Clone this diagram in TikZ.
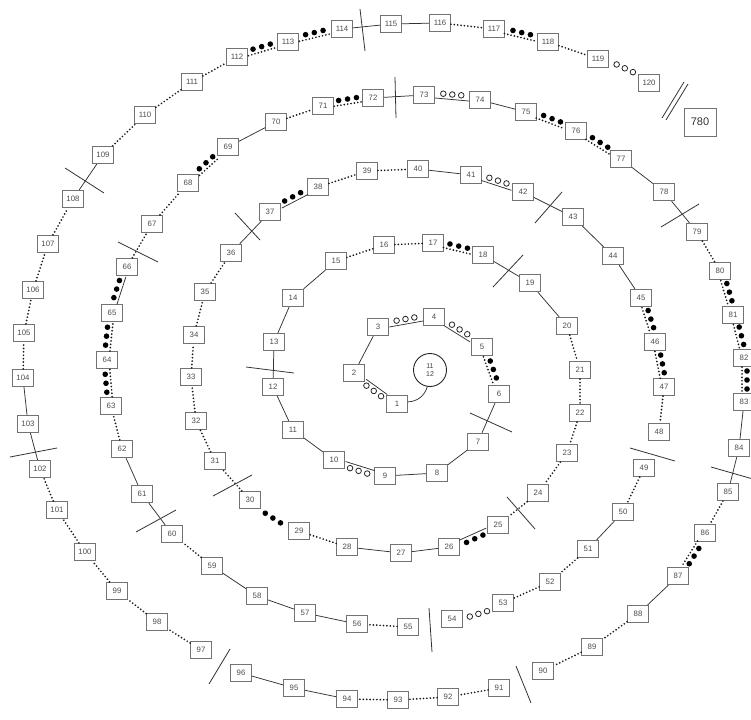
\documentclass[tikz,border=0pt]{standalone}
\usepackage{fontspec}
\setmainfont{Liberation Sans}
\usetikzlibrary{calc}
\tikzset{
  box/.style={draw=black!55, line width=0.8pt, minimum width=21pt, minimum height=17.5pt,
    inner sep=0pt, font=\fontsize{7.8}{8}\selectfont, text=black!70, fill=white},
  bigbox/.style={box, minimum width=32pt, minimum height=28pt, font=\fontsize{11}{12}\selectfont, text=black!80},
  solidc/.style={draw=black!80, line width=0.75pt},
  dotc/.style={draw=black!90, line width=1.9pt, dash pattern=on 0pt off 3.4pt, line cap=round},
  cutline/.style={draw=black!80, line width=0.8pt},
  dotmark/.style={fill=black},
  ringmark/.style={draw=black!85, line width=0.8pt, fill=white}
}
\newcommand\linkends[2]{\path (b#1) -- (b#2) coordinate[pos=0] (pa) coordinate[pos=.5] (mm) coordinate[pos=1] (pb);}
\newcommand\threemarks[1]{%
  \foreach \t in {pa,pb}{%
    \coordinate (qq) at ($(mm)!9pt!(\t)$);
    \path[#1] ($(qq)!3pt!-90:(pa)$) circle (2.8pt);
  }%
  \path[#1] ($(mm)!3pt!-90:(pa)$) circle (2.8pt);
}
\newcommand\innerline[1]{\draw[#1] ($(pa)!2pt!-90:(pb)$) -- ($(pb)!2pt!90:(pa)$);}
\newcommand\lkF[3]{\linkends{#1}{#2}\innerline{#3}\threemarks{dotmark}}
\newcommand\lkO[3]{\linkends{#1}{#2}\innerline{#3}\threemarks{ringmark}}
\newcommand\lkFo[2]{\linkends{#1}{#2}\threemarks{dotmark}}
\newcommand\lkOo[2]{\linkends{#1}{#2}\threemarks{ringmark}}
\begin{document}
\begin{tikzpicture}[x=1pt,y=-1pt]
\useasboundingbox (0,0) rectangle (751,719);
\fill[white] (0,0) rectangle (751,719);
% boxes
\foreach \n/\x/\y in {1/397/404, 2/354/373, 3/378/327, 4/434/317, 5/482/347, 6/499/394, 7/478/442, 8/437/473, 9/385/476, 10/334/460,
  11/293/430, 12/273/387, 13/274/342, 14/293/298, 15/336/261, 16/384/245, 17/433/243, 18/483/255, 19/530/283, 20/567/326,
  21/580/370, 22/580/413, 23/567/453, 24/538/493, 25/498/525, 26/449/547, 27/401/553, 28/347/547, 29/299/531, 30/250/500,
  31/215/461, 32/196/421, 33/191/377, 34/194/335, 35/205/292, 36/231/253, 37/270/212, 38/318/187, 39/367/171, 40/418/169,
  41/471/175, 42/523/192, 43/573/217, 44/613/256, 45/641/298, 46/655/342, 47/664/387, 48/659/432, 49/644/468, 50/623/512,
  51/588/549, 52/550/582, 53/503/603, 54/452/619, 55/408/627, 56/357/624, 57/305/613, 58/257/596, 59/212/566, 60/172/534,
  61/142/494, 62/122/449, 63/111/406, 64/107/360, 65/112/313, 66/127/267, 67/152/224, 68/188/183, 69/228/147, 70/276/122,
  71/323/106, 72/373/98, 73/424/95, 74/480/100, 75/526/112, 76/576/131, 77/621/159, 78/664/192, 79/697/232, 80/720/271,
  81/733/315, 82/744/358, 83/744/402, 84/739/448, 85/728/492, 86/705/533, 87/678/576, 88/638/614, 89/592/647, 90/543/671,
  91/499/688, 92/448/697, 93/398/700, 94/347/699, 95/294/688, 96/241/673, 97/201/650, 98/157/622, 99/117/591, 100/85/552,
  101/57/510, 102/40/469, 103/28/424, 104/23/378, 105/24/333, 106/33/290, 107/48/244, 108/73/199, 109/103/155, 110/145/115,
  111/192/82, 112/237/57, 113/288/42, 114/342/29, 115/391/24, 116/440/23, 117/494/29, 118/548/42, 119/598/59, 120/649/83}
  \node[box] (b\n) at (\x,\y) {\n};
\node[bigbox] (b780) at (700,122) {780};
\node[circle, draw=black!85, line width=0.9pt, minimum size=33pt, inner sep=0pt, align=center,
  font=\fontsize{7}{7.5}\selectfont, text=black!75] (ell) at (430,370) {11\\12};
% solid connectors
\foreach \a/\b in {2/3, 6/7, 7/8, 8/9, 10/11, 11/12, 12/13, 13/14, 14/15, 18/19, 19/20, 26/27, 27/28, 36/37,
  40/41, 42/43, 43/44, 44/45, 50/51, 56/57, 57/58, 58/59, 60/61, 61/62, 69/70, 72/73, 74/75, 77/78, 78/79,
  83/84, 84/85, 87/88, 94/95, 95/96, 102/103, 103/104, 108/109, 114/115, 115/116}
  \draw[solidc] (b\a) -- (b\b);
% dotted connectors
\foreach \a/\b in {15/16, 16/17, 20/21, 21/22, 22/23, 23/24, 24/25, 28/29, 30/31, 31/32, 32/33, 33/34, 34/35,
  35/36, 38/39, 39/40, 47/48, 49/50, 51/52, 52/53, 55/56, 59/60, 62/63, 66/67, 67/68, 70/71, 79/80, 85/86,
  88/89, 89/90, 91/92, 92/93, 93/94, 97/98, 98/99, 99/100, 100/101, 101/102, 104/105, 105/106, 106/107,
  107/108, 109/110, 110/111, 111/112, 116/117, 118/119}
  \draw[dotc] (b\a) -- (b\b);
% filled dots with dotted line
\foreach \a/\b in {5/6, 17/18, 45/46, 46/47, 63/64, 64/65, 68/69, 71/72, 75/76, 76/77, 80/81, 81/82, 82/83,
  86/87, 112/113, 113/114, 117/118}
  {\lkF{\a}{\b}{dotc}}
% filled dots with thin line
\foreach \a/\b in {25/26, 37/38, 65/66}
  {\lkF{\a}{\b}{solidc}}
\lkFo{29}{30}
% open rings with thin line
\foreach \a/\b in {1/2, 3/4, 4/5, 9/10, 41/42, 73/74}
  {\lkO{\a}{\b}{solidc}}
\lkOo{53}{54}
\lkOo{119}{120}
% link to the centre circle
\draw[solidc] (b1) to[bend right=35] (ell);
% cut marks
\draw[cutline] (470,413)--(512,432);
\draw[cutline] (246,367)--(294,373);
\draw[cutline] (493,287)--(523,255);
\draw[cutline] (507,497)--(535,529);
\draw[cutline] (213,496)--(252,475);
\draw[cutline] (235,213)--(260,240);
\draw[cutline] (535,223)--(562,192);
\draw[cutline] (630,448)--(675,461);
\draw[cutline] (429,608)--(432,652);
\draw[cutline] (136,532)--(176,510);
\draw[cutline] (118,242)--(158,262);
\draw[cutline] (395,77)--(396,118);
\draw[cutline] (661,227)--(699,204);
\draw[cutline] (711,467)--(753,479);
\draw[cutline] (516,666)--(531,703);
\draw[cutline] (209,684)--(230,649);
\draw[cutline] (10,457)--(57,448);
\draw[cutline] (65,168)--(104,193);
\draw[cutline] (360,9)--(365,51);
\draw[cutline] (662,118)--(684,82);
\draw[cutline] (666,120)--(688,84);
\end{tikzpicture}
\end{document}
